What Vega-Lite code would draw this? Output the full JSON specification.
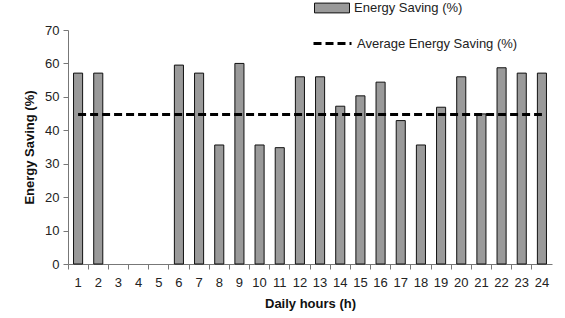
{
  "$schema": "https://vega.github.io/schema/vega-lite/v6.json",
  "autosize": {"type": "none"},
  "padding": {"left": 68, "top": 30, "right": 13, "bottom": 54},
  "width": 484,
  "height": 234,
  "config": {
    "font": "Liberation Sans",
    "view": {"stroke": null},
    "axis": {"labelFont": "Liberation Sans", "titleFont": "Liberation Sans", "labelFontSize": 13, "titleFontSize": 13, "labelColor": "#222", "titleColor": "#111", "domainColor": "#777", "tickColor": "#777", "grid": false, "tickSize": 5},
    "legend": {"labelFont": "Liberation Sans", "labelFontSize": 13, "labelColor": "#222", "labelLimit": 400}
  },
  "datasets": {
    "bars": [
      {"hour": "1", "saving": 57.1, "series": "Energy Saving (%)"},
      {"hour": "2", "saving": 57.1, "series": "Energy Saving (%)"},
      {"hour": "3", "saving": null, "series": "Energy Saving (%)"},
      {"hour": "4", "saving": null, "series": "Energy Saving (%)"},
      {"hour": "5", "saving": null, "series": "Energy Saving (%)"},
      {"hour": "6", "saving": 59.5, "series": "Energy Saving (%)"},
      {"hour": "7", "saving": 57.1, "series": "Energy Saving (%)"},
      {"hour": "8", "saving": 35.6, "series": "Energy Saving (%)"},
      {"hour": "9", "saving": 60.0, "series": "Energy Saving (%)"},
      {"hour": "10", "saving": 35.6, "series": "Energy Saving (%)"},
      {"hour": "11", "saving": 34.8, "series": "Energy Saving (%)"},
      {"hour": "12", "saving": 56.0, "series": "Energy Saving (%)"},
      {"hour": "13", "saving": 56.0, "series": "Energy Saving (%)"},
      {"hour": "14", "saving": 47.2, "series": "Energy Saving (%)"},
      {"hour": "15", "saving": 50.3, "series": "Energy Saving (%)"},
      {"hour": "16", "saving": 54.4, "series": "Energy Saving (%)"},
      {"hour": "17", "saving": 42.9, "series": "Energy Saving (%)"},
      {"hour": "18", "saving": 35.6, "series": "Energy Saving (%)"},
      {"hour": "19", "saving": 46.9, "series": "Energy Saving (%)"},
      {"hour": "20", "saving": 56.0, "series": "Energy Saving (%)"},
      {"hour": "21", "saving": 44.9, "series": "Energy Saving (%)"},
      {"hour": "22", "saving": 58.7, "series": "Energy Saving (%)"},
      {"hour": "23", "saving": 57.1, "series": "Energy Saving (%)"},
      {"hour": "24", "saving": 57.1, "series": "Energy Saving (%)"}
    ],
    "avg": [
      {"hour": "1", "saving": 44.7, "series": "Average Energy  Saving (%)"},
      {"hour": "24", "saving": 44.7, "series": "Average Energy  Saving (%)"}
    ]
  },
  "encoding": {
    "x": {"field": "hour", "type": "ordinal", "sort": null,
          "scale": {"domain": ["1","2","3","4","5","6","7","8","9","10","11","12","13","14","15","16","17","18","19","20","21","22","23","24"], "paddingInner": 0, "paddingOuter": 0},
          "axis": {"title": "Daily hours (h)", "labelAngle": 0, "bandPosition": 0, "labelPadding": 7, "titlePadding": 8}},
    "y": {"field": "saving", "type": "quantitative", "scale": {"domain": [0, 70], "nice": false},
          "axis": {"title": "Energy Saving (%)", "values": [0,10,20,30,40,50,60,70], "labelOverlap": false, "labelSeparation": 0, "labelFlush": false, "labelPadding": 4, "titlePadding": 8}}
  },
  "layer": [
    {
      "data": {"name": "bars"},
      "mark": {"type": "bar", "stroke": "#111", "strokeWidth": 1, "width": {"band": 0.45}},
      "encoding": {
        "fill": {"field": "series", "type": "nominal", "scale": {"range": ["#9a9a9a"]},
                 "legend": {"title": null, "orient": "none", "legendX": 246, "legendY": -40, "symbolType": "M-1,-0.28H1V0.28H-1Z", "symbolSize": 1225, "symbolStrokeColor": "#111", "symbolStrokeWidth": 1, "symbolFillColor": "#9a9a9a", "labelOffset": 4}}
      }
    },
    {
      "data": {"name": "avg"},
      "mark": {"type": "line", "color": "#000", "strokeWidth": 3, "strokeDash": [8, 4]},
      "encoding": {
        "strokeDash": {"field": "series", "type": "nominal", "scale": {"range": [[8, 4]]},
                       "legend": {"title": null, "orient": "none", "legendX": 244, "legendY": -7, "symbolType": "stroke", "symbolSize": 1444, "symbolStrokeWidth": 3, "symbolStrokeColor": "#000", "labelOffset": 4}}
      }
    }
  ]
}
